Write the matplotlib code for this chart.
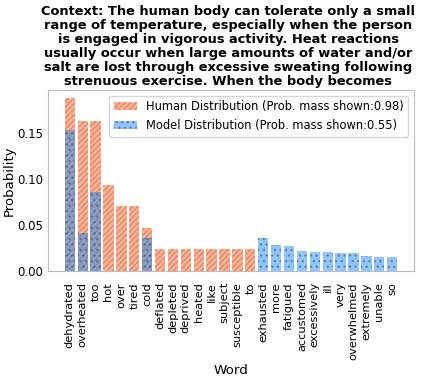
import numpy as np
import matplotlib.pyplot as plt

words = ['dehydrated', 'overheated', 'too', 'hot', 'over', 'tired', 'cold',
         'deflated', 'depleted', 'deprived', 'heated', 'like', 'subject',
         'susceptible', 'to', 'exhausted', 'more', 'fatigued', 'accustomed',
         'excessively', 'ill', 'very', 'overwhelmed', 'extremely', 'unable', 'so']
human = [0.187, 0.163, 0.163, 0.093, 0.070, 0.070, 0.047,
         0.0234, 0.0234, 0.0234, 0.0234, 0.0234, 0.0234, 0.0234, 0.0234,
         0, 0, 0, 0, 0, 0, 0, 0, 0, 0, 0]
model = [0.153, 0.041, 0.086, 0, 0, 0, 0.036,
         0, 0, 0, 0, 0, 0, 0, 0,
         0.0356, 0.0277, 0.0266, 0.0212, 0.0205, 0.0205, 0.0194, 0.0194,
         0.0162, 0.0148, 0.0148]

context = ("Context: The human body can tolerate only a small\n"
           "range of temperature, especially when the person\n"
           "is engaged in vigorous activity. Heat reactions\n"
           "usually occur when large amounts of water and/or\n"
           "salt are lost through excessive sweating following\n"
           "strenuous exercise. When the body becomes")

fig = plt.figure(figsize=(4.25, 3.79), dpi=100)
ax = fig.add_axes([0.113, 0.285, 0.861, 0.478])

x = np.arange(len(words))
ax.bar(x, human, color='#ff7f50', alpha=0.6, hatch='//////', edgecolor='#c8704a',
       linewidth=0, label='Human Distribution (Prob. mass shown:%.2f)' % sum(human))
ax.bar(x, model, color='#1e90ff', alpha=0.5, hatch='...', edgecolor='#505050',
       linewidth=0, label='Model Distribution (Prob. mass shown:%.2f)' % sum(model))

ax.set_xticks(x)
ax.set_xticklabels(words, rotation=90, fontsize=8.2)
ax.tick_params(axis='y', labelsize=8.5, length=0, pad=3.5)
ax.tick_params(axis='x', length=0, pad=8)
ax.set_yticks([0, 0.05, 0.10, 0.15])
ax.set_xlabel('Word', fontsize=9.7, labelpad=3)
ax.set_ylabel('Probability', fontsize=9.5, labelpad=1)
for s in ax.spines.values():
    s.set_color('#bbbbbb')
ax.legend(loc='upper right', fontsize=8.3)
fig.text(0.537, 0.986, context, fontsize=9.4, fontweight='bold', ha='center', va='top',
         linespacing=1.1)

fig.savefig('out.png', dpi=100)
